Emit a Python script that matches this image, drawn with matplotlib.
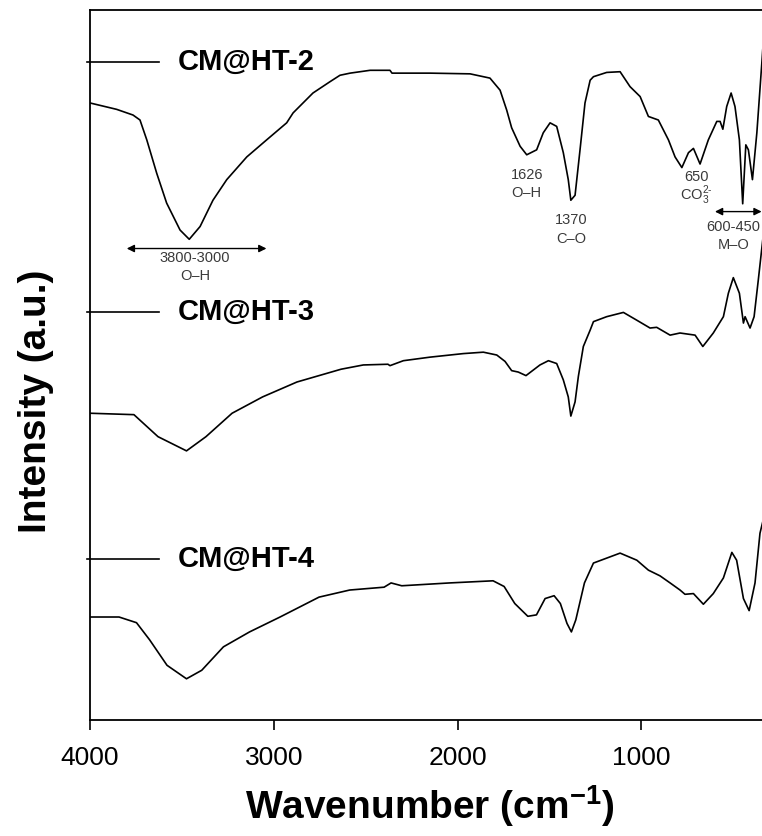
import matplotlib
matplotlib.use("Agg")
import matplotlib.pyplot as plt

plt.rcParams["font.family"] = ["Liberation Sans", "DejaVu Sans"]
plt.rcParams["mathtext.fontset"] = "custom"
plt.rcParams["mathtext.rm"] = "Liberation Sans"
plt.rcParams["mathtext.bf"] = "Liberation Sans:bold"

# FTIR spectra (wavenumber in cm-1, intensity offset in a.u.)
wn_ht2 = [4000, 3855, 3766, 3728, 3691, 3637, 3583, 3510, 3460, 3401, 3331, 3256,
          3147, 3039, 2930, 2895, 2787, 2694, 2640, 2585, 2476, 2368, 2357, 2150,
          1932, 1824, 1769, 1733, 1706, 1660, 1624, 1570, 1534, 1497, 1461, 1425,
          1398, 1384, 1361, 1334, 1307, 1279, 1261, 1189, 1116, 1062, 1007, 962,
          908, 853, 817, 780, 744, 717, 681, 636, 590, 572, 557, 536, 512, 491,
          467, 449, 432, 418, 396, 372, 345, 340]
int_ht2 = [86.9, 86.0, 85.2, 84.5, 81.7, 77.0, 72.8, 69.0, 67.7, 69.5, 73.2, 76.1,
           79.3, 81.7, 84.1, 85.5, 88.3, 89.9, 90.8, 91.1, 91.5, 91.5, 91.1, 91.1,
           91.0, 90.4, 88.7, 85.9, 83.4, 80.8, 79.6, 80.3, 82.7, 84.1, 83.6, 79.9,
           76.1, 73.2, 73.9, 80.3, 86.9, 90.1, 90.6, 91.2, 91.3, 89.2, 87.8, 85.0,
           84.5, 81.7, 79.3, 77.8, 79.9, 80.5, 78.3, 81.7, 84.3, 84.3, 83.2, 86.4,
           88.3, 86.4, 81.7, 72.7, 81.0, 80.3, 76.1, 82.7, 92.5, 94.4]

wn_ht3 = [4000, 3761, 3630, 3475, 3369, 3227, 3061, 2874, 2634, 2513, 2379, 2368,
          2295, 2150, 1969, 1860, 1787, 1742, 1706, 1670, 1628, 1552, 1506, 1461,
          1425, 1398, 1384, 1361, 1343, 1316, 1279, 1261, 1189, 1098, 1025, 953,
          917, 844, 790, 708, 666, 609, 554, 527, 500, 467, 445, 436, 409, 387,
          364, 340]
int_ht3 = [43.2, 43.0, 39.9, 37.9, 39.9, 43.2, 45.5, 47.6, 49.4, 50.0, 50.1, 49.9,
           50.6, 51.1, 51.6, 51.8, 51.4, 50.5, 49.2, 49.0, 48.5, 50.0, 50.6, 50.2,
           47.9, 45.5, 42.8, 44.8, 48.4, 52.6, 54.9, 56.1, 56.8, 57.4, 56.3, 55.2,
           55.3, 54.2, 54.5, 54.2, 52.6, 54.5, 56.8, 60.1, 62.3, 60.1, 55.9, 56.8,
           55.2, 56.8, 62.0, 67.6]

wn_ht4 = [4000, 3842, 3747, 3676, 3581, 3475, 3392, 3274, 3132, 2966, 2754, 2587,
          2400, 2362, 2304, 2043, 1807, 1747, 1689, 1618, 1571, 1524, 1475, 1441,
          1405, 1381, 1357, 1310, 1261, 1116, 1025, 962, 899, 844, 790, 763, 717,
          663, 609, 554, 508, 482, 445, 414, 382, 355, 340]
int_ht4 = [14.5, 14.5, 13.7, 11.3, 7.7, 5.8, 7.0, 10.3, 12.4, 14.5, 17.3, 18.3,
           18.7, 19.3, 18.9, 19.3, 19.6, 18.8, 16.4, 14.6, 14.8, 17.1, 17.5, 16.4,
           13.6, 12.4, 14.1, 19.3, 22.1, 23.5, 22.5, 21.1, 20.3, 19.3, 18.3, 17.7,
           17.8, 16.3, 17.8, 20.0, 23.6, 22.5, 17.1, 15.4, 19.3, 26.3, 27.9]

sample_names = ["CM@HT-2", "CM@HT-3", "CM@HT-4"]
label_levels = [92.7, 57.5, 22.7]

band_labels = [("1626", "O\u2013H", 1624, 76.8),
               ("1370", "C\u2013O", 1384, 70.4),
               ("650", "CO$_3^{2\\text{-}}$", 699, 76.5),
               ("600-450", "M\u2013O", 500, 69.5),
               ("3800-3000", "O\u2013H", 3429, 65.1)]
band_arrows = [(3800, 3040, 66.4), (600, 346, 71.6)]

fig = plt.figure(figsize=(7.62, 8.36), dpi=100)
ax = fig.add_axes([0.1181, 0.1388, 0.8819, 0.8493])

for wn, inten in [(wn_ht2, int_ht2), (wn_ht3, int_ht3), (wn_ht4, int_ht4)]:
    ax.plot(wn, inten, color="black", lw=1.2)

# sample labels with a short line from the axis
for name, level in zip(sample_names, label_levels):
    ax.plot([4015, 3625], [level, level], color="black", lw=1.2, clip_on=False)
    ax.text(3520, level, name, fontsize=21, fontweight="bold", ha="left", va="center")

for top, bottom, x, y in band_labels:
    ax.text(x, y, top, fontsize=10.5, color="#3a3a3a", ha="center", va="center")
    ax.text(x, y - 2.6, bottom, fontsize=10.5, color="#3a3a3a", ha="center", va="center")

for x0, x1, y in band_arrows:
    ax.annotate("", xy=(x1, y), xytext=(x0, y),
                arrowprops=dict(arrowstyle="<|-|>", color="black", lw=1.0,
                                mutation_scale=11, shrinkA=0, shrinkB=0))

ax.set_xlim(4000, 344)
ax.set_ylim(0, 100)
ax.set_xticks([4000, 3000, 2000, 1000])
ax.set_yticks([])
ax.tick_params(axis="x", direction="out", length=7, width=1.2, labelsize=19, pad=12)
ax.spines["right"].set_visible(False)
for side in ["left", "top", "bottom"]:
    ax.spines[side].set_linewidth(1.3)

fig.text(430 / 762, 1 - 806 / 836, "Wavenumber (cm$^{\\mathbf{-1}}$)", fontsize=28,
         fontweight="bold", ha="center", va="center")
fig.text(36 / 762, 1 - 401 / 836, "Intensity (a.u.)", fontsize=28, fontweight="bold",
         rotation=90, ha="center", va="center")

fig.savefig("out.png", dpi=100)
